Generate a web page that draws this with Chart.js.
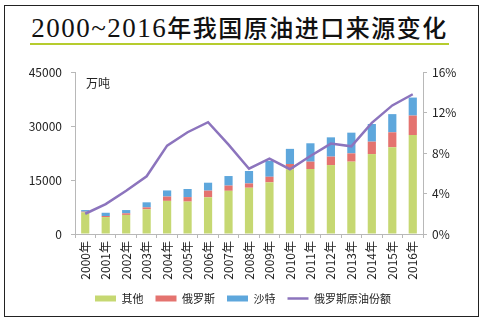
<!DOCTYPE html>
<html>
<head>
<meta charset="utf-8">
<script src="https://cdn.jsdelivr.net/npm/chart.js@4/dist/chart.umd.min.js"></script>
<style>
  html, body { margin: 0; padding: 0; background: #fff; }
  body { width: 486px; height: 325px; position: relative; overflow: hidden; font-family: "Noto Sans CJK SC", sans-serif; }
  #frame { position: absolute; left: 4px; top: 5px; width: 475px; height: 312px; border: 1.5px solid #222; box-sizing: border-box; }
  #title { position: absolute; left: 30px; top: 12px; width: 419px; text-align: center; font-size: 24px; line-height: 30px; color: #111; white-space: nowrap; letter-spacing: 1.5px; }
  #title .num { font-family: "Liberation Serif", "DejaVu Serif", serif; font-size: 27px; }
  #title .zh { font-family: "Noto Sans CJK SC", sans-serif; font-weight: 500; }
  #rule { position: absolute; left: 30px; top: 43px; width: 419px; height: 2px; background: #b6cc2e; }
  #unit { position: absolute; left: 86px; top: 74px; font-size: 12px; color: #222; }
  #wrap { position: absolute; left: 0; top: 0; width: 486px; height: 325px; }
</style>
</head>
<body>
<div id="frame"></div>
<div id="title"><span class="num">2000~2016</span><span class="zh">年我国原油进口来源变化</span></div>
<div id="rule"></div>
<div id="wrap"><canvas id="chart"></canvas></div>
<div id="unit">万吨</div>
<script>
const years = ['2000年', '2001年', '2002年', '2003年', '2004年', '2005年', '2006年', '2007年', '2008年',
  '2009年', '2010年', '2011年', '2012年', '2013年', '2014年', '2015年', '2016年'];
// 万吨
const other = [6000, 4700, 5300, 6850, 9200, 9000, 10200, 12000, 12850, 14350, 18000, 18050, 19150, 20100, 22200, 24100, 27500];
const russia = [200, 300, 450, 550, 1200, 1250, 1850, 1450, 1200, 1550, 1450, 2050, 2350, 2300, 3450, 4150, 5400];
const saudi = [450, 900, 900, 1400, 1700, 2250, 2200, 2650, 3450, 4400, 4200, 5100, 5350, 5750, 4900, 5050, 5000];
// 俄罗斯原油份额 (%)
const russiaShare = [2.0, 2.95, 4.27, 5.7, 8.73, 10.05, 11.04, 8.83, 6.45, 7.44, 6.4, 7.7, 8.93, 8.66, 10.98, 12.7, 13.8];
const leftTicks = [0, 15000, 30000, 45000];
const rightTicks = [0, 4, 8, 12, 16];

const tickFont = { family: '"Noto Sans CJK SC", sans-serif', size: 12 };
const legendFont = { family: '"Noto Sans CJK SC", sans-serif', size: 11 };
const axisColor = '#b8b8b8';

function createImportChart(canvas) {
  if (!canvas || typeof Chart === 'undefined') return null;
  const ctx = canvas.getContext && canvas.getContext('2d');
  if (!ctx) return null;
  return new Chart(ctx, {
    data: {
      labels: years,
      datasets: [
        { type: 'line', label: '俄罗斯原油份额', data: russiaShare, yAxisID: 'y1', borderColor: '#8c74bd', backgroundColor: '#8c74bd',
          borderWidth: 2.5, pointRadius: 0, pointStyle: 'line', tension: 0, order: 0 },
        { type: 'bar', label: '其他', data: other, yAxisID: 'y', backgroundColor: '#c6d872', pointStyle: 'rect', order: 1 },
        { type: 'bar', label: '俄罗斯', data: russia, yAxisID: 'y', backgroundColor: '#e4736f', pointStyle: 'rect', order: 1 },
        { type: 'bar', label: '沙特', data: saudi, yAxisID: 'y', backgroundColor: '#5ea7dc', pointStyle: 'rect', order: 1 },
      ]
    },
    options: {
      responsive: true,
      maintainAspectRatio: false,
      animation: false,
      datasets: { bar: { categoryPercentage: 1, barPercentage: 0.4 } },
      layout: { padding: { left: 0, right: 0, top: 72, bottom: 11 } },
      plugins: {
        tooltip: { enabled: false },
        legend: {
          position: 'bottom',
          labels: {
            font: legendFont, color: '#222', usePointStyle: true, pointStyleWidth: 21, boxHeight: 6, padding: 12,
            sort: (a, b) => {
              const rank = ['其他', '俄罗斯', '沙特', '俄罗斯原油份额'];
              return rank.indexOf(a.text) - rank.indexOf(b.text);
            }
          }
        }
      },
      scales: {
        x: {
          stacked: true,
          offset: true,
          afterFit: s => { s.height = 47; },
          grid: { display: true, offset: true, drawOnChartArea: false, tickLength: 4, color: axisColor },
          border: { color: axisColor },
          ticks: { font: tickFont, color: '#222', minRotation: 90, maxRotation: 90, padding: 3, autoSkip: false }
        },
        y: {
          stacked: true,
          position: 'left',
          min: leftTicks[0],
          max: leftTicks[leftTicks.length - 1],
          afterFit: s => { s.width = 75; },
          afterBuildTicks: s => { s.ticks = leftTicks.map(v => ({ value: v })); },
          grid: { drawOnChartArea: false, tickLength: 4, color: axisColor },
          border: { color: axisColor },
          ticks: { font: tickFont, color: '#222', padding: 9, callback: v => String(v) }
        },
        y1: {
          position: 'right',
          min: rightTicks[0],
          max: rightTicks[rightTicks.length - 1],
          afterFit: s => { s.width = 63; },
          afterBuildTicks: s => { s.ticks = rightTicks.map(v => ({ value: v })); },
          grid: { drawOnChartArea: false, tickLength: 4, color: axisColor },
          border: { color: axisColor },
          ticks: { font: tickFont, color: '#222', padding: 5, callback: v => v + '%' }
        }
      }
    }
  });
}

createImportChart(document.getElementById('chart'));
</script>
</body>
</html>
